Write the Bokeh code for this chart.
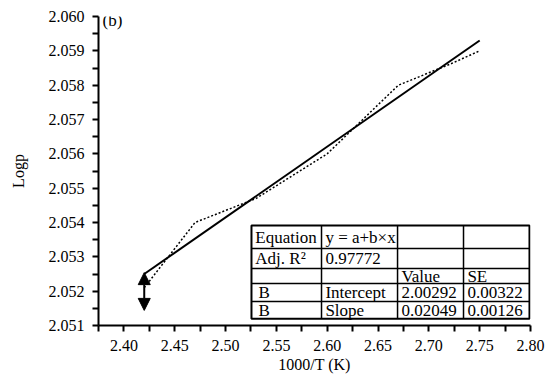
from bokeh.plotting import figure
from bokeh.models import (Range1d, FixedTicker, PrintfTickFormatter, Label,
                          Arrow, NormalHead, ColumnDataSource)
from bokeh.core.properties import value
from bokeh.embed import file_html
from bokeh.resources import INLINE

# ---------------- data ----------------
meas_x = [2.42, 2.47, 2.53, 2.60, 2.67, 2.72, 2.75]
meas_y = [2.0521, 2.0540, 2.0547, 2.0560, 2.0580, 2.0586, 2.0590]

fit_x = [2.42, 2.75]
fit_y = [2.0525, 2.0593]

err_x = [2.42]
err_top = [2.05254]
err_bottom = [2.05144]

x_major = [2.40, 2.45, 2.50, 2.55, 2.60, 2.65, 2.70, 2.75, 2.80]
x_minor = [2.375, 2.425, 2.475, 2.525, 2.575, 2.625, 2.675, 2.725, 2.775]
y_major = [2.051, 2.052, 2.053, 2.054, 2.055, 2.056, 2.057, 2.058, 2.059, 2.060]
y_minor = [2.0515, 2.0525, 2.0535, 2.0545, 2.0555, 2.0565, 2.0575, 2.0585, 2.0595]

table_rows = [
    ["Equation", "y = a+b\u00d7x", "", ""],
    ["Adj. R\u00b2", "0.97772", "", ""],
    ["", "", "Value", "SE"],
    ["B", "Intercept", "2.00292", "0.00322"],
    ["B", "Slope", "0.02049", "0.00126"],
]

# ---------------- layout ----------------
FONT = "Liberation Serif"
X0, X1 = 2.375, 2.80
Y0, Y1 = 2.051, 2.060

p = figure(width=555, height=376, output_backend="svg", toolbar_location=None,
           x_range=Range1d(X0, X1), y_range=Range1d(Y0, Y1),
           min_border_left=98, min_border_right=25, min_border_top=16,
           min_border_bottom=51)
p.outline_line_color = None
p.grid.visible = False
p.background_fill_color = "white"
p.border_fill_color = "white"

for ax in (p.xaxis[0], p.yaxis[0]):
    ax.axis_line_width = 2
    ax.axis_line_color = "black"
    ax.major_tick_line_width = 2
    ax.minor_tick_line_width = 2
    ax.major_tick_line_color = "black"
    ax.minor_tick_line_color = "black"
    ax.major_tick_out = 6
    ax.major_tick_in = 0
    ax.minor_tick_out = 6
    ax.minor_tick_in = 0
    ax.major_label_text_font = FONT
    ax.major_label_text_font_size = "16px"
    ax.major_label_text_color = "black"
    ax.axis_label_text_font = FONT
    ax.axis_label_text_font_size = "16px"
    ax.axis_label_text_font_style = "normal"
    ax.axis_label_text_color = "black"

p.xaxis.ticker = FixedTicker(ticks=x_major, minor_ticks=x_minor)
p.yaxis.ticker = FixedTicker(ticks=y_major, minor_ticks=y_minor)
p.xaxis.formatter = PrintfTickFormatter(format="%.2f")
p.yaxis.formatter = PrintfTickFormatter(format="%.3f")
p.xaxis.axis_label = "1000/T (K)"
p.yaxis.axis_label = "Logp"
p.xaxis.major_label_standoff = 8
p.yaxis.major_label_standoff = 8
p.xaxis.axis_label_standoff = 2
p.yaxis.axis_label_standoff = 19

px_y = (Y1 - Y0) / 309.0

# measured (dotted) and fitted (solid) lines
p.line(meas_x, meas_y, line_color="black", line_width=1.5, line_dash="2 2")
p.line(fit_x, fit_y, line_color="black", line_width=2)

# double arrow marker
arr_src = ColumnDataSource(dict(x=err_x, y0=err_bottom, y1=err_top))
p.add_layout(Arrow(x_start="x", y_start="y0", x_end="x", y_end="y1",
                   source=arr_src, line_width=2, line_color="black",
                   start=NormalHead(size=12, fill_color="black", line_color="black"),
                   end=NormalHead(size=12, fill_color="black", line_color="black")))

# panel tag
p.add_layout(Label(x=X0 + 0.004, y=Y1 - 4 * px_y, text="(b)", text_font=FONT,
                   text_font_size="17px", text_baseline="middle",
                   text_color="black"))

# ---------------- fit-result table ----------------
col_edges = [2.5255, 2.5944, 2.6692, 2.7341, 2.7990]
row_edges = [2.05391, 2.05324, 2.05266, 2.05222, 2.05170, 2.05120]
pad = 0.0038

p.quad(left=col_edges[0], right=col_edges[-1], top=row_edges[0], bottom=row_edges[-1],
       fill_color="white", line_color=None)
xs0, ys0, xs1, ys1 = [], [], [], []
for c in col_edges[1:-1]:
    xs0.append(c); xs1.append(c); ys0.append(row_edges[0]); ys1.append(row_edges[-1])
for r in row_edges[1:-1]:
    xs0.append(col_edges[0]); xs1.append(col_edges[-1]); ys0.append(r); ys1.append(r)
p.segment(xs0, ys0, xs1, ys1, line_color="black", line_width=1.5)
p.quad(left=col_edges[0], right=col_edges[-1], top=row_edges[0], bottom=row_edges[-1],
       fill_color=None, line_color="black", line_width=2)

tx, ty, tt = [], [], []
for i, row in enumerate(table_rows):
    yc = (row_edges[i] + row_edges[i + 1]) / 2
    for j, txt in enumerate(row):
        if not txt:
            continue
        extra = 0.003 if txt == "B" else 0.0
        tx.append(col_edges[j] + pad + extra)
        ty.append(yc)
        tt.append(txt)
p.text(x=tx, y=ty, text=tt, text_font=value(FONT), text_font_size="17px",
       text_baseline="middle", text_align="left", text_color="black")

open("out.html", "w").write(file_html(p, INLINE))
